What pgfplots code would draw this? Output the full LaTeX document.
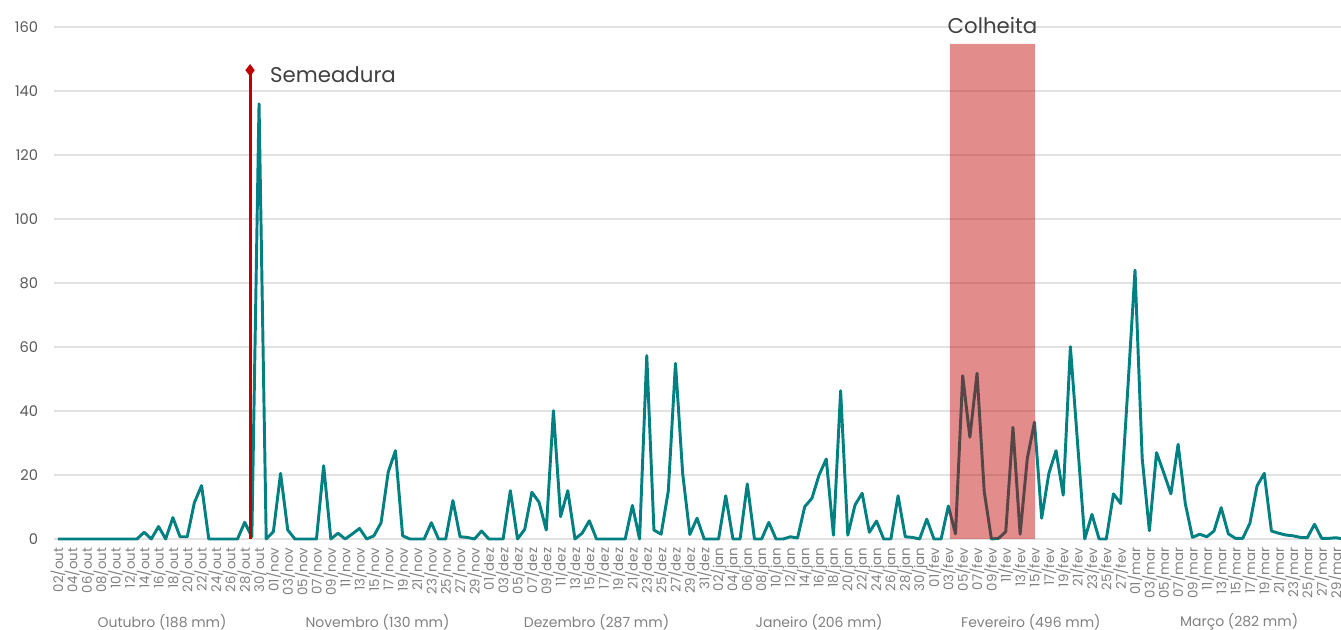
\documentclass[border=0pt]{standalone}
\usepackage{fontspec}
\setmainfont{Poppins}
\usepackage{pgfplots}
\pgfplotsset{compat=1.18}
\usepackage{pgfplotstable}
\definecolor{teal1}{RGB}{0,128,128}
\definecolor{semred}{RGB}{192,0,0}
\definecolor{gridc}{RGB}{226,226,226}
\definecolor{ylab}{RGB}{89,89,89}
\definecolor{xlab}{RGB}{128,128,128}
\definecolor{txt}{RGB}{64,64,64}

\pgfplotstableread{
d v
0 0
1 0
2 0
3 0
4 0
5 0
6 0
7 0
8 0
9 0
10 0
11 0
12 2.1
13 0
14 3.9
15 0
16 6.7
17 0.7
18 0.7
19 11.4
20 16.7
21 0
22 0
23 0
24 0
25 0
26 5.2
27 0.7
28 136
29 0
30 2.3
31 20.5
32 2.8
33 0
34 0
35 0
36 0
37 22.9
38 0
39 1.8
40 0
41 1.6
42 3.3
43 0
44 1
45 5.1
46 21
47 27.6
48 1
49 0
50 0
51 0
52 5.1
53 0
54 0
55 12
56 0.7
57 0.5
58 0
59 2.5
60 0
61 0
62 0
63 15.1
64 0
65 3
66 14.6
67 11.5
68 2.8
69 40.1
70 7
71 15.1
72 0
73 1.8
74 5.7
75 0
76 0
77 0
78 0
79 0
80 10.5
81 0
82 57.3
83 2.8
84 1.5
85 15
86 54.9
87 20.5
88 1.4
89 6.5
90 0
91 0
92 0
93 13.5
94 0
95 0
96 17.2
97 0
98 0
99 5.2
100 0
101 0
102 0.7
103 0.3
104 10.1
105 12.7
106 20
107 25
108 1.2
109 46.3
110 1.2
111 10.6
112 14.3
113 2.1
114 5.6
115 0
116 0
117 13.5
118 0.7
119 0.5
120 0
121 6.2
122 0
123 0
124 10.3
125 1.6
126 51
127 31.8
128 51.8
129 14.8
130 0
131 0.2
132 2.3
133 34.9
134 1.5
135 25.2
136 36.5
137 6.5
138 20.5
139 27.6
140 13.7
141 60.1
142 30
143 0
144 7.7
145 0
146 0
147 14.1
148 11.1
149 47
150 84
151 25.2
152 2.6
153 27
154 20.7
155 14.1
156 29.6
157 11.1
158 0.5
159 1.5
160 0.7
161 2.5
162 9.8
163 1.6
164 0.2
165 0.2
166 4.9
167 16.6
168 20.5
169 2.5
170 1.8
171 1.25
172 1
173 0.5
174 0.4
175 4.6
176 0.2
177 0.2
178 0.4
179 0
}\chuva

\begin{document}
\begin{tikzpicture}
\begin{axis}[
  at={(0,0)}, anchor=south west,
  scale only axis,
  width=964.95pt, height=384pt,
  xmin=-0.5, xmax=178.69,
  ymin=0, ymax=160,
  clip=false,
  axis line style={draw=none},
  tick style={draw=none},
  ymajorgrids,
  grid style={gridc, line width=0.8pt},
  ytick={0,20,...,160},
  xtick={0,2,...,178},
  xticklabels={02/out,04/out,06/out,08/out,10/out,12/out,14/out,16/out,18/out,20/out,22/out,24/out,26/out,28/out,30/out,
    01/nov,03/nov,05/nov,07/nov,09/nov,11/nov,13/nov,15/nov,17/nov,19/nov,21/nov,23/nov,25/nov,27/nov,29/nov,
    01/dez,03/dez,05/dez,07/dez,09/dez,11/dez,13/dez,15/dez,17/dez,19/dez,21/dez,23/dez,25/dez,27/dez,29/dez,31/dez,
    02/jan,04/jan,06/jan,08/jan,10/jan,12/jan,14/jan,16/jan,18/jan,20/jan,22/jan,24/jan,26/jan,28/jan,30/jan,
    01/fev,03/fev,05/fev,07/fev,09/fev,11/fev,13/fev,15/fev,17/fev,19/fev,21/fev,23/fev,25/fev,27/fev,
    01/mar,03/mar,05/mar,07/mar,09/mar,11/mar,13/mar,15/mar,17/mar,19/mar,21/mar,23/mar,25/mar,27/mar,29/mar},
  xticklabel style={rotate=90, anchor=east, inner sep=0pt, font=\fontsize{10}{12}\selectfont, text=xlab},
  xticklabel shift=6.5pt,
  yticklabel style={anchor=east, inner sep=0pt, font=\fontsize{11}{13}\selectfont, text=ylab},
  yticklabel shift=12pt,
  /pgf/number format/assume math mode=true,
]
\addplot[teal1, line width=2.2pt, line join=round, mark=none] table[x=d, y=v] {\chuva};
\addplot[semred, line width=2.2pt, mark=diamond*, mark indices={2}, mark size=2.8pt, mark options={solid, fill=semred}] coordinates {(26.75,0) (26.75,146.5)};
\addplot[draw=none, fill=semred, fill opacity=0.45] coordinates {(124.2,0) (124.2,154.7) (136.1,154.7) (136.1,0)} \closedcycle;
\node[anchor=west, text=txt, font=\fontsize{16}{18}\selectfont, inner sep=0pt] at (axis cs:29.5,145) {Semeadura};
\node[text=txt, font=\fontsize{16}{18}\selectfont, inner sep=0pt] at (axis cs:130.15,160.6) {Colheita};
\node[text=xlab, font=\fontsize{10.5}{12}\selectfont] at (axis cs:14.5,-26) {Outubro (188 mm)};
\node[text=xlab, font=\fontsize{10.5}{12}\selectfont] at (axis cs:44.5,-26) {Novembro (130 mm)};
\node[text=xlab, font=\fontsize{10.5}{12}\selectfont] at (axis cs:75,-26) {Dezembro (287 mm)};
\node[text=xlab, font=\fontsize{10.5}{12}\selectfont] at (axis cs:106,-26) {Janeiro (206 mm)};
\node[text=xlab, font=\fontsize{10.5}{12}\selectfont] at (axis cs:135.5,-26) {Fevereiro (496 mm)};
\node[text=xlab, font=\fontsize{10.5}{12}\selectfont] at (axis cs:164.5,-26) {Março (282 mm)};
\end{axis}
\pgfresetboundingbox
\path[use as bounding box] (-40.8pt,-68.25pt) rectangle (964.95pt,404.25pt);
\end{tikzpicture}
\end{document}
